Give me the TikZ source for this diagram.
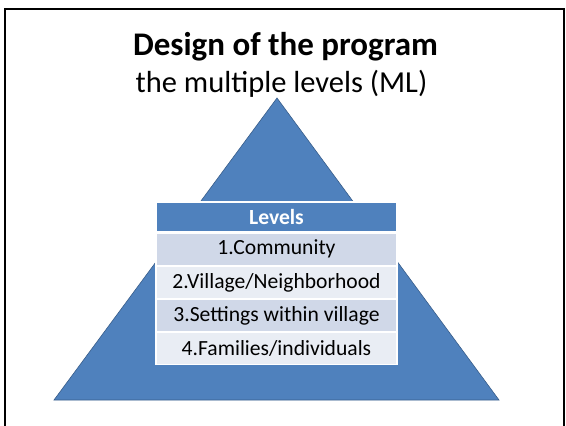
\documentclass[tikz,border=0pt]{standalone}
\usepackage{fontspec}
\setmainfont{Carlito}
\usepackage{tikz}
\usetikzlibrary{positioning}
\definecolor{office}{HTML}{4F81BD}
\definecolor{officedark}{HTML}{385D8A}
\definecolor{rowdark}{HTML}{D0D8E8}
\definecolor{rowlight}{HTML}{E9EDF4}
\tikzset{
    cell/.style={draw=white, line width=1.2pt, minimum width=241pt, minimum height=32pt,
        inner sep=0pt, font=\fontsize{21.6}{24}\selectfont},
}

\begin{document}
\begin{tikzpicture}[x=1pt, y=-1pt]
    \useasboundingbox (0,0) rectangle (566,426);

    % Slide frame
    \draw[line width=2pt] (5,9) rectangle (564,440);

    % Title
    \node[anchor=base, font=\fontsize{33}{36}\selectfont\bfseries] (title) at (285.5,55) {Design of the program};
    \node[anchor=base, font=\fontsize{30.5}{34}\selectfont] (subtitle) at (281.5,92) {the multiple levels (ML)};

    % Pyramid
    \fill[office, draw=officedark, line width=0.6pt] (277,98) -- (499,400) -- (54,400) -- cycle;

    % Levels table
    \node[cell, fill=office, minimum height=30pt, text=white, font=\fontsize{21.6}{24}\selectfont\bfseries] (hdr) at (276.5,217) {Levels};
    \node[cell, fill=rowdark, below=0pt of hdr] (lvl1) {1.Community};
    \node[cell, fill=rowlight, below=0pt of lvl1] (lvl2) {2.Village/Neighborhood};
    \node[cell, fill=rowdark, below=0pt of lvl2] (lvl3) {3.Settings within village};
    \node[cell, fill=rowlight, below=0pt of lvl3] (lvl4) {4.Families/individuals};
\end{tikzpicture}
\end{document}
